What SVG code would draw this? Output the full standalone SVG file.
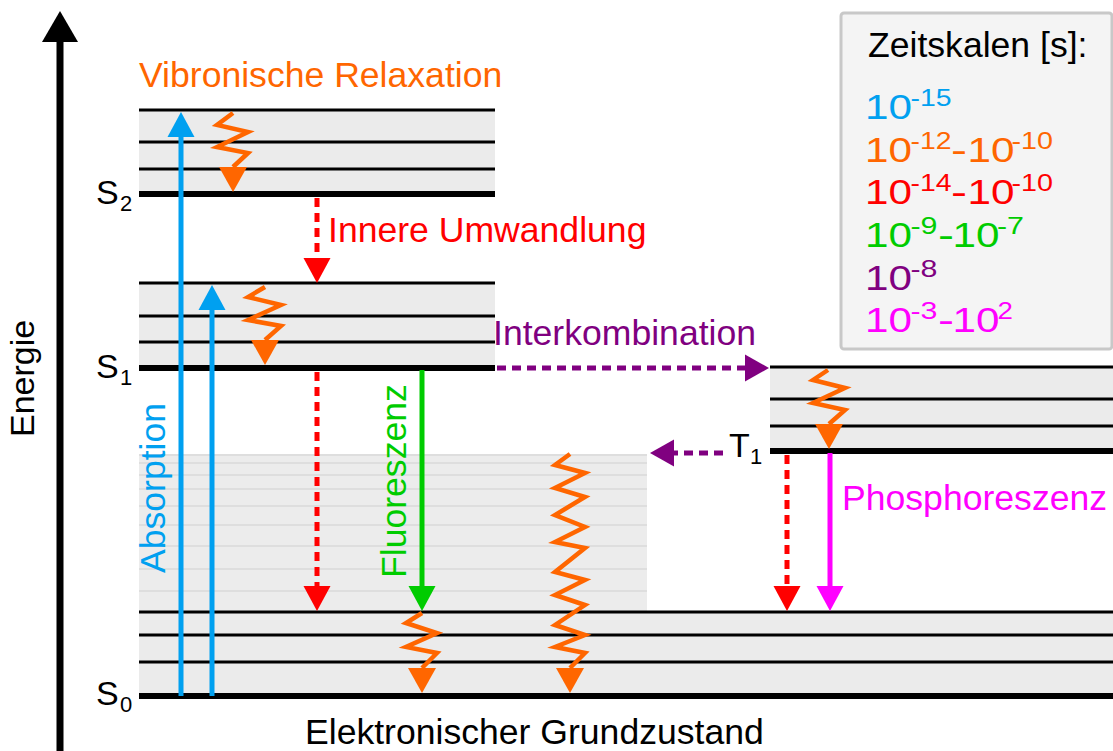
<svg xmlns="http://www.w3.org/2000/svg" width="1113" height="751" viewBox="0 0 1113 751">
<defs>
<style>
text{font-family:"Liberation Sans",Arial,sans-serif}
.lbl{font-size:35.6px}
.lg{font-size:35px}
.sup{font-size:23px}
.sub{font-size:22px}
.band{fill:#ebebeb}
.light{fill:#ececec}
.thin{stroke:#000;stroke-width:3}
.thick{stroke:#000;stroke-width:6}
.stripe{stroke:#dedede;stroke-width:2}
.arr{fill:none;stroke-width:5}
.dash{stroke-dasharray:9 6}
.zz{fill:none;stroke:#ff6600;stroke-width:4.5;stroke-linejoin:miter;stroke-miterlimit:10}
</style>
<marker id="h-blue" markerUnits="userSpaceOnUse" markerWidth="26" markerHeight="28" refX="0" refY="0" orient="auto" overflow="visible"><path d="M0,-13.5 L25,0 L0,13.5 z" fill="#00a0f0"/></marker>
<marker id="h-red" markerUnits="userSpaceOnUse" markerWidth="26" markerHeight="28" refX="0" refY="0" orient="auto" overflow="visible"><path d="M0,-13.5 L25,0 L0,13.5 z" fill="#ff0000"/></marker>
<marker id="h-green" markerUnits="userSpaceOnUse" markerWidth="26" markerHeight="28" refX="0" refY="0" orient="auto" overflow="visible"><path d="M0,-13.5 L25,0 L0,13.5 z" fill="#00cc00"/></marker>
<marker id="h-purple" markerUnits="userSpaceOnUse" markerWidth="26" markerHeight="28" refX="0" refY="0" orient="auto" overflow="visible"><path d="M0,-13.5 L24,0 L0,13.5 z" fill="#800080"/></marker>
<marker id="h-magenta" markerUnits="userSpaceOnUse" markerWidth="26" markerHeight="28" refX="0" refY="0" orient="auto" overflow="visible"><path d="M0,-13.5 L25,0 L0,13.5 z" fill="#ff00ff"/></marker>
<marker id="h-orange" markerUnits="userSpaceOnUse" markerWidth="26" markerHeight="28" refX="0" refY="0" orient="90" overflow="visible"><path d="M0,-14 L25,0 L0,14 z" fill="#ff6600"/></marker>
</defs>
<rect width="1113" height="751" fill="#ffffff"/>

<g id="energy-axis">
<line x1="60" y1="40" x2="60" y2="751" stroke="#000" stroke-width="7"/>
<polygon points="60,11 42,42 78,42" fill="#000"/>
<text transform="translate(33.5,437) rotate(-90)" fill="#000" style="font-size:34px">Energie</text>
</g>

<g id="S2">
<rect class="band" x="139" y="110" width="356" height="84"/>
<line class="thin" x1="139" y1="110" x2="495" y2="110"/>
<line class="thin" x1="139" y1="142" x2="495" y2="142"/>
<line class="thin" x1="139" y1="169" x2="495" y2="169"/>
<line class="thick" x1="139" y1="194" x2="495" y2="194"/>
<text x="96" y="204" style="font-size:34px">S<tspan class="sub" x="120" y="211">2</tspan></text>
</g>

<g id="S1">
<rect class="band" x="139" y="283" width="356" height="85"/>
<line class="thin" x1="139" y1="283" x2="495" y2="283"/>
<line class="thin" x1="139" y1="316" x2="495" y2="316"/>
<line class="thin" x1="139" y1="342" x2="495" y2="342"/>
<line class="thick" x1="139" y1="368" x2="495" y2="368"/>
<text x="96" y="378" style="font-size:34px">S<tspan class="sub" x="120" y="385">1</tspan></text>
</g>

<g id="T1">
<rect class="band" x="770" y="367" width="343" height="84"/>
<line class="thin" x1="770" y1="367" x2="1113" y2="367"/>
<line class="thin" x1="770" y1="399" x2="1113" y2="399"/>
<line class="thin" x1="770" y1="426" x2="1113" y2="426"/>
<line class="thick" x1="770" y1="451" x2="1113" y2="451"/>
<text x="729" y="457" style="font-size:34px">T<tspan class="sub" x="750" y="464">1</tspan></text>
</g>

<g id="S0-high-vibrational">
<rect class="light" x="139" y="454" width="508" height="157"/>
<line class="stripe" x1="139" y1="455" x2="647" y2="455"/>
<line class="stripe" x1="139" y1="463" x2="647" y2="463"/>
<line class="stripe" x1="139" y1="475" x2="647" y2="475"/>
<line class="stripe" x1="139" y1="489" x2="647" y2="489"/>
<line class="stripe" x1="139" y1="506" x2="647" y2="506"/>
<line class="stripe" x1="139" y1="525" x2="647" y2="525"/>
<line class="stripe" x1="139" y1="546" x2="647" y2="546"/>
<line class="stripe" x1="139" y1="569" x2="647" y2="569"/>
<line class="stripe" x1="139" y1="591" x2="647" y2="591"/>
</g>

<g id="S0">
<rect class="band" x="139" y="612" width="974" height="84"/>
<line class="thin" x1="139" y1="612" x2="1113" y2="612"/>
<line class="thin" x1="139" y1="635" x2="1113" y2="635"/>
<line class="thin" x1="139" y1="662" x2="1113" y2="662"/>
<line class="thick" x1="139" y1="696" x2="1113" y2="696"/>
<text x="96" y="705" style="font-size:34px">S<tspan class="sub" x="120" y="712">0</tspan></text>
<text class="lbl" x="305" y="744" fill="#000">Elektronischer Grundzustand</text>
</g>

<g id="connectors">
<line class="arr" stroke="#00a0f0" x1="181" y1="696" x2="181" y2="137" marker-end="url(#h-blue)"/>
<line class="arr" stroke="#00a0f0" x1="212" y1="696" x2="212" y2="310" marker-end="url(#h-blue)"/>
<line class="arr dash" stroke="#ff0000" x1="317" y1="198" x2="317" y2="258" marker-end="url(#h-red)"/>
<line class="arr dash" stroke="#ff0000" x1="317" y1="372" x2="317" y2="586" marker-end="url(#h-red)"/>
<line class="arr" stroke="#00cc00" x1="422" y1="370" x2="422" y2="586" marker-end="url(#h-green)"/>
<line class="arr dash" stroke="#800080" x1="497" y1="368" x2="745" y2="368" marker-end="url(#h-purple)"/>
<line class="arr dash" stroke="#800080" x1="723" y1="453" x2="674" y2="453" marker-end="url(#h-purple)"/>
<line class="arr dash" stroke="#ff0000" x1="787" y1="455" x2="787" y2="586" marker-end="url(#h-red)"/>
<line class="arr" stroke="#ff00ff" x1="830" y1="453" x2="830" y2="586" marker-end="url(#h-magenta)"/>
<polyline class="zz" points="233,113 217,125 248,132 217,147 248,153 233,167" marker-end="url(#h-orange)"/>
<polyline class="zz" points="265,287 248,297 281,305 248,320 281,326 265,340" marker-end="url(#h-orange)"/>
<polyline class="zz" points="828,370 813,380 845,388 813,403 845,410 829,424" marker-end="url(#h-orange)"/>
<polyline class="zz" points="422,613 406,623 437,633 406,647 437,653 422,668" marker-end="url(#h-orange)"/>
<polyline class="zz" points="570,454 555,465 585,473 555,488 585,497 555,515 585,527 555,542 585,548 555,572 585,580 555,595 585,605 555,625 585,635 555,647 585,653 570,668" marker-end="url(#h-orange)"/>
</g>

<g id="labels">
<text class="lbl" x="139" y="87" fill="#ff6600">Vibronische Relaxation</text>
<text class="lbl" x="328" y="242" fill="#ff0000">Innere Umwandlung</text>
<text class="lbl" x="493" y="345" fill="#800080">Interkombination</text>
<text class="lbl" x="842" y="510" fill="#ff00ff">Phosphoreszenz</text>
<text class="lbl" transform="translate(165,573) rotate(-90)" fill="#00a0f0">Absorption</text>
<text class="lbl" transform="translate(406,578) rotate(-90)" fill="#00cc00">Fluoreszenz</text>
</g>

<g id="legend">
<rect x="841" y="13" width="271" height="336" rx="3" fill="#f4f4f4" stroke="#c8c8c8" stroke-width="3"/>
<text class="lbl" x="868" y="57" fill="#000">Zeitskalen [s]:</text>
<text class="lg" y="119" fill="#00a0f0"><tspan x="865" textLength="47" lengthAdjust="spacingAndGlyphs">10</tspan><tspan class="sup" x="910.5" y="106" textLength="41" lengthAdjust="spacingAndGlyphs">-15</tspan></text>
<text class="lg" y="162" fill="#ff6600"><tspan x="865" textLength="47" lengthAdjust="spacingAndGlyphs">10</tspan><tspan class="sup" x="910.5" y="149" textLength="41" lengthAdjust="spacingAndGlyphs">-12</tspan><tspan x="951" y="162" textLength="16" lengthAdjust="spacingAndGlyphs">-</tspan><tspan x="967.5" y="162" textLength="47" lengthAdjust="spacingAndGlyphs">10</tspan><tspan class="sup" x="1011.5" y="149" textLength="41.5" lengthAdjust="spacingAndGlyphs">-10</tspan></text>
<text class="lg" y="204" fill="#ff0000"><tspan x="865" textLength="47" lengthAdjust="spacingAndGlyphs">10</tspan><tspan class="sup" x="910.5" y="191" textLength="41" lengthAdjust="spacingAndGlyphs">-14</tspan><tspan x="951" y="204" textLength="16" lengthAdjust="spacingAndGlyphs">-</tspan><tspan x="967.5" y="204" textLength="47" lengthAdjust="spacingAndGlyphs">10</tspan><tspan class="sup" x="1011.5" y="191" textLength="41.5" lengthAdjust="spacingAndGlyphs">-10</tspan></text>
<text class="lg" y="247" fill="#00cc00"><tspan x="865" textLength="47" lengthAdjust="spacingAndGlyphs">10</tspan><tspan class="sup" x="910.4" y="234" textLength="27" lengthAdjust="spacingAndGlyphs">-9</tspan><tspan x="938" y="247" textLength="16" lengthAdjust="spacingAndGlyphs">-</tspan><tspan x="952.5" y="247" textLength="47" lengthAdjust="spacingAndGlyphs">10</tspan><tspan class="sup" x="997" y="234" textLength="27" lengthAdjust="spacingAndGlyphs">-7</tspan></text>
<text class="lg" y="290" fill="#800080"><tspan x="865" textLength="47" lengthAdjust="spacingAndGlyphs">10</tspan><tspan class="sup" x="910.4" y="277" textLength="27" lengthAdjust="spacingAndGlyphs">-8</tspan></text>
<text class="lg" y="332" fill="#ff00ff"><tspan x="865" textLength="47" lengthAdjust="spacingAndGlyphs">10</tspan><tspan class="sup" x="910.4" y="319" textLength="27" lengthAdjust="spacingAndGlyphs">-3</tspan><tspan x="938" y="332" textLength="16" lengthAdjust="spacingAndGlyphs">-</tspan><tspan x="952.5" y="332" textLength="47" lengthAdjust="spacingAndGlyphs">10</tspan><tspan class="sup" x="997.5" y="319" textLength="15.4" lengthAdjust="spacingAndGlyphs">2</tspan></text>
</g>
</svg>
